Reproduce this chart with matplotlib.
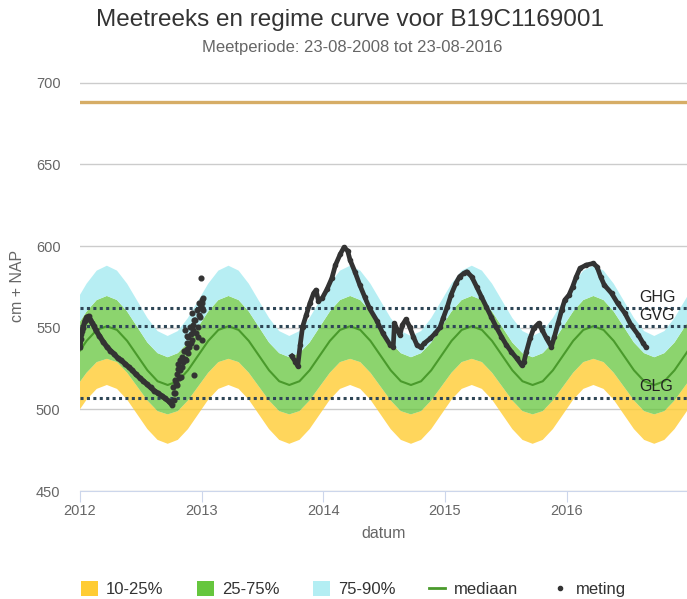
import numpy as np
import matplotlib
matplotlib.use("Agg")
import matplotlib.pyplot as plt
from matplotlib.patches import Patch
from matplotlib.lines import Line2D

plt.rcParams["font.family"] = ["Liberation Sans", "DejaVu Sans"]

# ── regime curve: één jaar, waarde rond de 20e van elke maand ────────────────
maand_pos = [(m + 0.65) / 12 for m in range(12)]
p10 = [506, 512.6, 515, 512.6, 506, 497, 488, 481.4, 479, 481.4, 488, 497]
p25 = [522.5, 529, 531, 529, 522.5, 514, 505.5, 499, 497, 499, 505.5, 514]
p50 = [542, 548.7, 551, 548.7, 542, 533, 524, 517.3, 515, 517.3, 524, 533]
p75 = [560, 567, 569.5, 567, 560, 550.5, 541, 534.5, 532, 534.5, 541, 550.5]
p90 = [577, 585, 588, 585, 577, 566.5, 556, 548, 545, 548, 556, 566.5]
jaren = list(range(2011, 2018))

# ── grondwaterkarakteristieken ────────────────────────────────────────────────
GHG = 562
GVG = 551
GLG = 507
maaiveld = 688.4

# ── metingen (decimaal jaar, cm + NAP) ────────────────────────────────────────
jaar_a = [2012.00, 2012.005, 2012.01, 2012.018, 2012.025, 2012.04, 2012.055,
          2012.07, 2012.085, 2012.10, 2012.115, 2012.13, 2012.16, 2012.19,
          2012.22, 2012.25, 2012.28, 2012.31, 2012.34, 2012.37, 2012.40,
          2012.43, 2012.46, 2012.49, 2012.52, 2012.55, 2012.58, 2012.61,
          2012.64, 2012.67, 2012.70, 2012.73, 2012.755]
meting_a = [538, 543, 546, 548, 550, 554, 556.5, 557, 555, 553, 551, 548.5,
            545, 541.5, 538.5, 536, 534, 531.5, 530, 528, 526, 524, 521.5,
            519.5, 517.5, 515.5, 513.5, 511.5, 510, 508.5, 506.8, 505, 503]

jaar_b = [2012.767, 2012.772, 2012.775, 2012.781, 2012.781, 2012.788,
          2012.794, 2012.80, 2012.804, 2012.808, 2012.815, 2012.822, 2012.826,
          2012.83, 2012.835, 2012.842, 2012.849, 2012.855, 2012.86, 2012.863,
          2012.863, 2012.87, 2012.876, 2012.88, 2012.883, 2012.89, 2012.89,
          2012.897, 2012.904, 2012.91, 2012.914, 2012.918, 2012.918, 2012.925,
          2012.931, 2012.936, 2012.94, 2012.945, 2012.95, 2012.955, 2012.959,
          2012.967, 2012.972, 2012.975, 2012.978, 2012.986, 2012.99, 2012.994,
          2013.0, 2013.0, 2013.004, 2013.007, 2013.014, 2013.014]
meting_b = [514, 506, 510, 518, 510, 516, 522, 515, 525, 528, 519, 524, 530,
            520, 532, 526, 529, 536, 531, 536, 548.6, 530, 540.5, 537, 545,
            544.6, 534.4, 538, 550.7, 546, 541, 542.5, 558.8, 552, 548.6, 555,
            521.1, 554.8, 538.4, 547, 560.9, 544.6, 550.7, 558, 565, 556.8,
            562, 580.3, 567, 542.5, 565, 562, 568, 560.9]

jaar_c = [2013.74, 2013.77, 2013.79, 2013.81, 2013.83, 2013.86, 2013.89,
          2013.92, 2013.94, 2013.96, 2013.99, 2014.03, 2014.07, 2014.10,
          2014.14, 2014.17, 2014.20, 2014.22, 2014.26, 2014.30, 2014.34,
          2014.38, 2014.44, 2014.49, 2014.55, 2014.575, 2014.585, 2014.61,
          2014.63, 2014.65, 2014.68, 2014.71, 2014.74, 2014.77, 2014.80,
          2014.83, 2014.88, 2014.92, 2014.96, 2014.985, 2015.02, 2015.05,
          2015.09, 2015.12, 2015.155, 2015.18, 2015.22, 2015.26, 2015.30,
          2015.34, 2015.38, 2015.42, 2015.465, 2015.505, 2015.545, 2015.59,
          2015.63, 2015.65, 2015.67, 2015.70, 2015.73, 2015.77, 2015.80,
          2015.835, 2015.875, 2015.90, 2015.93, 2015.96, 2015.985, 2016.02,
          2016.05, 2016.08, 2016.11, 2016.16, 2016.22, 2016.25, 2016.28,
          2016.31, 2016.37, 2016.42, 2016.48, 2016.53, 2016.59, 2016.63,
          2016.65]
meting_c = [532.7, 529.3, 526.6, 539.5, 550.7, 557.8, 565, 571.1, 573.1,
            566.6, 568, 573.5, 580.3, 588.4, 595.2, 599.2, 597.2, 591.5,
            584.3, 576.2, 569, 561.9, 554.4, 546.6, 539.5, 538.4, 552.7,
            548.6, 545.6, 551.7, 555.2, 550.7, 544.6, 539.5, 538, 540.5,
            543.5, 546.6, 550.3, 555.8, 562.9, 570.1, 577.2, 581.3, 583.3,
            584.3, 581.3, 575.2, 569, 562.9, 556.8, 550.7, 544.6, 539.5,
            535.4, 531.3, 527.2, 529.3, 535.4, 543.5, 549.7, 552.7, 548.6,
            543.5, 538.4, 544.6, 552.7, 560.9, 567, 570.1, 575.2, 581.3,
            586.4, 588.4, 589.4, 587.4, 581.3, 576.2, 571.1, 565, 558.9,
            551.7, 545.6, 540.5, 538.4]

x_ticks = [2012, 2013, 2014, 2015, 2016]
y_ticks = [450, 500, 550, 600, 650, 700]

# ── kleuren ──────────────────────────────────────────────────────────────────
geel   = "#FFCC33"
groen  = "#66C63E"
cyaan  = "#B3EEF3"
median_kleur = "#4A9A2C"
stip_kleur   = "#2F4656"
meet_kleur   = "#333333"

# regime curve over alle jaren herhalen
x_reg = np.array([j + p for j in jaren for p in maand_pos])
def herhaal(v):
    return np.tile(v, len(jaren))
r10, r25, r50, r75, r90 = map(herhaal, (p10, p25, p50, p75, p90))

fig = plt.figure(figsize=(6.87, 5.99), dpi=100)
ax = fig.add_axes([80 / 687, 0.18, 1 - 80 / 687, 0.6846])

ax.fill_between(x_reg, r10, r25, color=geel, alpha=0.8, lw=0, zorder=1)
ax.fill_between(x_reg, r25, r75, color=groen, alpha=0.75, lw=0, zorder=1)
ax.fill_between(x_reg, r75, r90, color=cyaan, alpha=0.95, lw=0, zorder=1)
ax.plot(x_reg, r50, color=median_kleur, lw=1.5, zorder=2)

for waarde, naam in [(GHG, "GHG"), (GVG, "GVG"), (GLG, "GLG")]:
    ax.axhline(waarde, color=stip_kleur, lw=2.2, ls=(0, (1, 1.1)), zorder=3)
    ax.annotate(naam, (2016.60, waarde), xytext=(0, 8), textcoords="offset points",
                ha="left", va="center", fontsize=11.5, color="#222222", zorder=5)

ax.axhline(maaiveld, color="#D6AD66", lw=2.4, zorder=3)

ax.plot(jaar_a, meting_a, color=meet_kleur, lw=3.8, marker="o", ms=3.2, zorder=4)
ax.plot(jaar_b, meting_b, color=meet_kleur, ls="", marker="o", ms=3.4, zorder=4)
ax.plot(jaar_c, meting_c, color=meet_kleur, lw=3.4, marker="o", ms=3.0, zorder=4)

ax.set_xlim(2012, 2016.99)
ax.set_ylim(450, 701)
ax.set_xticks(x_ticks)
ax.set_xticklabels([str(t) for t in x_ticks])
ax.set_yticks(y_ticks)

ax.grid(axis="y", color="#cccccc", lw=1, zorder=0)
ax.set_axisbelow(True)
for s in ["top", "right", "left"]:
    ax.spines[s].set_visible(False)
ax.spines["bottom"].set_color("#ccd6eb")
ax.tick_params(axis="x", colors="#ccd6eb", length=8, pad=1, labelcolor="#666666",
               labelsize=10.5)
ax.tick_params(axis="y", length=0, pad=14, labelcolor="#666666", labelsize=10.5)

ax.set_xlabel("datum", fontsize=11.5, color="#666666", labelpad=6)
ax.set_ylabel("cm + NAP", fontsize=11.5, color="#666666", labelpad=8)

fig.text(0.51, 0.967, "Meetreeks en regime curve voor B19C1169001",
         ha="center", va="center", fontsize=17.5, color="#333333")
fig.text(0.512, 0.92, "Meetperiode: 23-08-2008 tot 23-08-2016",
         ha="center", va="center", fontsize=12, color="#666666")

handles = [
    Patch(facecolor=geel, label="10-25%"),
    Patch(facecolor=groen, label="25-75%"),
    Patch(facecolor=cyaan, label="75-90%"),
    Line2D([], [], color=median_kleur, lw=2, label="mediaan"),
    Line2D([], [], color=meet_kleur, ls="", marker="o", ms=3, label="meting"),
]
fig.legend(handles=handles, loc="center", bbox_to_anchor=(0.515, 0.016), ncol=5,
           frameon=False, fontsize=12, labelcolor="#333333", handlelength=1.0,
           handleheight=1.0, handletextpad=0.5, columnspacing=2.0)

fig.savefig("out.png", dpi=100)
